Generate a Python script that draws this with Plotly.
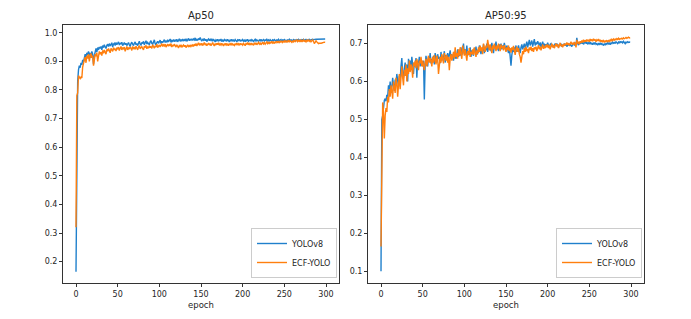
import plotly.graph_objects as go

epochs = list(range(300))

ap50_yolov8 = [
    0.165, 0.700, 0.830, 0.870, 0.885, 0.878, 0.895, 0.888, 0.905, 0.898,
    0.915, 0.925, 0.905, 0.930, 0.922, 0.935, 0.920, 0.930, 0.912, 0.935,
    0.925, 0.890, 0.920, 0.938, 0.945, 0.932, 0.948, 0.940, 0.950, 0.945,
    0.952, 0.940, 0.955, 0.948, 0.958, 0.950, 0.945, 0.956, 0.960, 0.952,
    0.962, 0.955, 0.958, 0.965, 0.950, 0.960, 0.963, 0.955, 0.966, 0.958,
    0.962, 0.968, 0.957, 0.964, 0.960, 0.967, 0.955, 0.962, 0.966, 0.958,
    0.963, 0.955, 0.960, 0.966, 0.958, 0.952, 0.962, 0.967, 0.960, 0.955,
    0.963, 0.968, 0.958, 0.962, 0.955, 0.965, 0.970, 0.960, 0.957, 0.966,
    0.962, 0.970, 0.958, 0.965, 0.972, 0.960, 0.966, 0.962, 0.958, 0.968,
    0.972, 0.963, 0.960, 0.968, 0.975, 0.962, 0.958, 0.966, 0.970, 0.963,
    0.968, 0.974, 0.962, 0.970, 0.965, 0.972, 0.976, 0.966, 0.971, 0.968,
    0.975, 0.968, 0.972, 0.978, 0.966, 0.973, 0.970, 0.976, 0.969, 0.974,
    0.971, 0.977, 0.968, 0.974, 0.979, 0.970, 0.975, 0.972, 0.978, 0.971,
    0.976, 0.973, 0.979, 0.970, 0.975, 0.980, 0.972, 0.977, 0.974, 0.979,
    0.973, 0.978, 0.975, 0.982, 0.972, 0.977, 0.974, 0.980, 0.975, 0.983,
    0.976, 0.971, 0.978, 0.974, 0.980, 0.972, 0.977, 0.969, 0.975, 0.978,
    0.972, 0.977, 0.973, 0.979, 0.970, 0.976, 0.974, 0.968, 0.975, 0.972,
    0.977, 0.970, 0.975, 0.973, 0.978, 0.969, 0.974, 0.971, 0.976, 0.972,
    0.975, 0.970, 0.977, 0.973, 0.968, 0.975, 0.972, 0.977, 0.970, 0.974,
    0.971, 0.976, 0.972, 0.968, 0.975, 0.973, 0.977, 0.970, 0.974, 0.972,
    0.976, 0.971, 0.974, 0.969, 0.975, 0.972, 0.977, 0.970, 0.973, 0.975,
    0.971, 0.976, 0.973, 0.968, 0.974, 0.977, 0.971, 0.975, 0.972, 0.970,
    0.975, 0.972, 0.977, 0.970, 0.974, 0.976, 0.971, 0.975, 0.973, 0.977,
    0.972, 0.975, 0.970, 0.976, 0.973, 0.971, 0.975, 0.972, 0.976, 0.974,
    0.971, 0.975, 0.973, 0.977, 0.972, 0.974, 0.976, 0.971, 0.975, 0.973,
    0.976, 0.972, 0.974, 0.970, 0.975, 0.973, 0.977, 0.972, 0.975, 0.974,
    0.971, 0.976, 0.973, 0.975, 0.972, 0.976, 0.974, 0.977, 0.973, 0.975,
    0.972, 0.976, 0.974, 0.977, 0.973, 0.975, 0.977, 0.974, 0.976, 0.975,
    0.977, 0.974, 0.976, 0.975, 0.977, 0.976, 0.977, 0.976, 0.977, 0.977,
    0.977, 0.977, 0.977, 0.978, 0.977, 0.978, 0.978, 0.978, 0.978, 0.978,
]

ap50_ecf = [
    0.320, 0.780, 0.790, 0.850, 0.845, 0.840, 0.845, 0.842, 0.880, 0.900,
    0.905, 0.915, 0.895, 0.920, 0.910, 0.925, 0.900, 0.918, 0.928, 0.912,
    0.920, 0.885, 0.910, 0.925, 0.918, 0.930, 0.900, 0.928, 0.935, 0.925,
    0.932, 0.920, 0.938, 0.928, 0.940, 0.932, 0.925, 0.942, 0.935, 0.945,
    0.938, 0.930, 0.945, 0.940, 0.935, 0.948, 0.940, 0.944, 0.936, 0.948,
    0.942, 0.950, 0.938, 0.946, 0.952, 0.940, 0.948, 0.944, 0.950, 0.935,
    0.945, 0.952, 0.940, 0.948, 0.943, 0.950, 0.946, 0.938, 0.952, 0.945,
    0.948, 0.942, 0.953, 0.946, 0.940, 0.950, 0.955, 0.944, 0.948, 0.952,
    0.945, 0.940, 0.953, 0.948, 0.956, 0.944, 0.950, 0.946, 0.955, 0.948,
    0.952, 0.945, 0.958, 0.950, 0.946, 0.955, 0.950, 0.960, 0.948, 0.953,
    0.957, 0.950, 0.955, 0.962, 0.952, 0.958, 0.954, 0.960, 0.950, 0.956,
    0.960, 0.953, 0.958, 0.955, 0.962, 0.950, 0.957, 0.953, 0.960, 0.955,
    0.950, 0.958, 0.953, 0.947, 0.955, 0.952, 0.958, 0.949, 0.954, 0.957,
    0.951, 0.956, 0.948, 0.954, 0.958, 0.950, 0.955, 0.952, 0.958, 0.953,
    0.957, 0.952, 0.960, 0.955, 0.962, 0.954, 0.958, 0.965, 0.956, 0.961,
    0.958, 0.963, 0.955, 0.960, 0.966, 0.957, 0.962, 0.955, 0.960, 0.964,
    0.957, 0.962, 0.955, 0.960, 0.966, 0.958, 0.954, 0.962, 0.957, 0.963,
    0.958, 0.965, 0.956, 0.961, 0.957, 0.963, 0.959, 0.954, 0.962, 0.958,
    0.963, 0.957, 0.960, 0.955, 0.962, 0.958, 0.964, 0.956, 0.961, 0.958,
    0.955, 0.962, 0.958, 0.964, 0.957, 0.961, 0.956, 0.963, 0.959, 0.961,
    0.957, 0.963, 0.958, 0.955, 0.962, 0.960, 0.966, 0.958, 0.962, 0.957,
    0.964, 0.959, 0.961, 0.956, 0.963, 0.960, 0.965, 0.958, 0.962, 0.966,
    0.960, 0.964, 0.958, 0.963, 0.967, 0.961, 0.965, 0.960, 0.964, 0.968,
    0.962, 0.966, 0.961, 0.968, 0.963, 0.970, 0.964, 0.967, 0.962, 0.969,
    0.965, 0.971, 0.966, 0.969, 0.964, 0.970, 0.967, 0.972, 0.966, 0.970,
    0.968, 0.973, 0.966, 0.971, 0.968, 0.974, 0.967, 0.972, 0.969, 0.966,
    0.971, 0.968, 0.974, 0.969, 0.972, 0.975, 0.969, 0.973, 0.970, 0.974,
    0.968, 0.973, 0.970, 0.975, 0.970, 0.972, 0.968, 0.974, 0.971, 0.976,
    0.970, 0.973, 0.968, 0.972, 0.975, 0.970, 0.962, 0.966, 0.972, 0.968,
    0.965, 0.962, 0.963, 0.962, 0.963, 0.964, 0.966, 0.965, 0.967, 0.966,
]

ap5095_yolov8 = [
    0.100, 0.500, 0.510, 0.540, 0.550, 0.555, 0.548, 0.565, 0.560, 0.590,
    0.575, 0.600, 0.570, 0.585, 0.610, 0.590, 0.575, 0.605, 0.595, 0.620,
    0.600, 0.585, 0.615, 0.605, 0.640, 0.662, 0.620, 0.610, 0.635, 0.650,
    0.625, 0.645, 0.600, 0.660, 0.640, 0.655, 0.630, 0.665, 0.645, 0.620,
    0.650, 0.640, 0.662, 0.610, 0.655, 0.648, 0.665, 0.640, 0.660, 0.650,
    0.640, 0.655, 0.553, 0.645, 0.668, 0.650, 0.640, 0.665, 0.655, 0.675,
    0.648, 0.660, 0.652, 0.668, 0.645, 0.675, 0.658, 0.650, 0.672, 0.660,
    0.665, 0.648, 0.678, 0.655, 0.668, 0.660, 0.680, 0.650, 0.670, 0.662,
    0.675, 0.658, 0.670, 0.682, 0.660, 0.672, 0.665, 0.655, 0.678, 0.668,
    0.660, 0.672, 0.685, 0.665, 0.675, 0.668, 0.690, 0.670, 0.680, 0.700,
    0.672, 0.685, 0.670, 0.695, 0.668, 0.680, 0.673, 0.690, 0.665, 0.682,
    0.675, 0.668, 0.688, 0.678, 0.692, 0.670, 0.684, 0.676, 0.695, 0.680,
    0.672, 0.688, 0.680, 0.698, 0.675, 0.690, 0.682, 0.700, 0.678, 0.692,
    0.685, 0.695, 0.680, 0.702, 0.688, 0.675, 0.695, 0.690, 0.705, 0.685,
    0.692, 0.680, 0.698, 0.688, 0.700, 0.685, 0.695, 0.690, 0.702, 0.688,
    0.680, 0.695, 0.685, 0.675, 0.690, 0.665, 0.642, 0.670, 0.685, 0.678,
    0.690, 0.682, 0.695, 0.678, 0.688, 0.695, 0.685, 0.675, 0.690, 0.698,
    0.685, 0.692, 0.700, 0.688, 0.695, 0.705, 0.690, 0.700, 0.710, 0.695,
    0.700, 0.708, 0.692, 0.700, 0.712, 0.695, 0.703, 0.698, 0.706, 0.700,
    0.695, 0.703, 0.690, 0.698, 0.705, 0.695, 0.700, 0.692, 0.698, 0.695,
    0.702, 0.695, 0.690, 0.698, 0.700, 0.693, 0.697, 0.690, 0.695, 0.700,
    0.694, 0.700, 0.696, 0.690, 0.698, 0.695, 0.700, 0.692, 0.697, 0.694,
    0.700, 0.695, 0.698, 0.692, 0.696, 0.700, 0.694, 0.698, 0.695, 0.692,
    0.698, 0.700, 0.695, 0.702, 0.697, 0.715, 0.700, 0.696, 0.703, 0.699,
    0.705, 0.700, 0.704, 0.698, 0.702, 0.706, 0.700, 0.704, 0.698, 0.702,
    0.700, 0.704, 0.698, 0.702, 0.697, 0.701, 0.699, 0.703, 0.698, 0.700,
    0.696, 0.700, 0.698, 0.702, 0.697, 0.700, 0.698, 0.695, 0.700, 0.697,
    0.700, 0.698, 0.703, 0.699, 0.701, 0.697, 0.702, 0.700, 0.704, 0.701,
    0.703, 0.700, 0.705, 0.702, 0.700, 0.704, 0.701, 0.706, 0.703, 0.705,
    0.702, 0.706, 0.703, 0.700, 0.704, 0.702, 0.705, 0.703, 0.704, 0.703,
]

ap5095_ecf = [
    0.165, 0.470, 0.545, 0.520, 0.450, 0.510, 0.530, 0.520, 0.560, 0.545,
    0.580, 0.560, 0.590, 0.575, 0.555, 0.600, 0.585, 0.570, 0.610, 0.595,
    0.560, 0.600, 0.620, 0.580, 0.605, 0.640, 0.610, 0.590, 0.630, 0.615,
    0.645, 0.600, 0.635, 0.620, 0.655, 0.625, 0.645, 0.635, 0.610, 0.650,
    0.640, 0.655, 0.635, 0.660, 0.645, 0.630, 0.655, 0.648, 0.665, 0.640,
    0.655, 0.645, 0.630, 0.650, 0.660, 0.640, 0.655, 0.668, 0.650, 0.662,
    0.655, 0.640, 0.665, 0.650, 0.670, 0.658, 0.645, 0.668, 0.660, 0.620,
    0.655, 0.665, 0.650, 0.672, 0.660, 0.648, 0.675, 0.662, 0.655, 0.670,
    0.650, 0.665, 0.630, 0.660, 0.672, 0.655, 0.668, 0.678, 0.660, 0.690,
    0.665, 0.675, 0.660, 0.685, 0.668, 0.690, 0.672, 0.660, 0.695, 0.675,
    0.668, 0.685, 0.672, 0.655, 0.680, 0.670, 0.688, 0.665, 0.678, 0.672,
    0.685, 0.670, 0.690, 0.675, 0.665, 0.682, 0.672, 0.690, 0.678, 0.695,
    0.680, 0.690, 0.672, 0.700, 0.685, 0.678, 0.695, 0.688, 0.710, 0.690,
    0.682, 0.698, 0.688, 0.675, 0.695, 0.685, 0.700, 0.690, 0.680, 0.695,
    0.685, 0.700, 0.690, 0.680, 0.698, 0.688, 0.694, 0.682, 0.696, 0.688,
    0.678, 0.690, 0.683, 0.695, 0.680, 0.688, 0.676, 0.690, 0.683, 0.694,
    0.680, 0.670, 0.685, 0.692, 0.678, 0.688, 0.672, 0.665, 0.650, 0.668,
    0.680, 0.672, 0.688, 0.678, 0.692, 0.680, 0.686, 0.675, 0.690, 0.683,
    0.692, 0.680, 0.688, 0.678, 0.690, 0.685, 0.692, 0.680, 0.688, 0.696,
    0.685, 0.692, 0.682, 0.690, 0.698, 0.686, 0.694, 0.688, 0.697, 0.690,
    0.698, 0.688, 0.695, 0.685, 0.692, 0.700, 0.690, 0.696, 0.688, 0.694,
    0.700, 0.692, 0.698, 0.688, 0.695, 0.702, 0.693, 0.697, 0.690, 0.699,
    0.694, 0.700, 0.696, 0.703, 0.697, 0.701, 0.695, 0.700, 0.705, 0.698,
    0.702, 0.697, 0.704, 0.700, 0.690, 0.710, 0.700, 0.705, 0.698, 0.706,
    0.702, 0.708, 0.703, 0.710, 0.704, 0.709, 0.705, 0.711, 0.706, 0.710,
    0.705, 0.712, 0.707, 0.711, 0.706, 0.713, 0.708, 0.711, 0.705, 0.710,
    0.707, 0.712, 0.706, 0.710, 0.704, 0.709, 0.705, 0.708, 0.703, 0.707,
    0.705, 0.709, 0.704, 0.708, 0.706, 0.710, 0.707, 0.711, 0.708, 0.712,
    0.709, 0.712, 0.710, 0.713, 0.711, 0.714, 0.711, 0.713, 0.712, 0.714,
    0.712, 0.715, 0.713, 0.714, 0.716, 0.714, 0.715, 0.717, 0.715, 0.716,
]

series_names = ["YOLOv8", "ECF-YOLO"]
panel_titles = ["Ap50", "AP50:95"]
x_ticks = [0, 50, 100, 150, 200, 250, 300]
left_y_ticks = [0.2, 0.3, 0.4, 0.5, 0.6, 0.7, 0.8, 0.9, 1.0]
right_y_ticks = [0.1, 0.2, 0.3, 0.4, 0.5, 0.6, 0.7]

BLUE = "#2080cc"
ORANGE = "#ff7f0e"
OFF = 8  # page body margin offset
W, H = 691 - OFF, 319 - OFF
FONT = "DejaVu Sans"
TXT = "#262626"


def px(x):
    return (x - OFF) / W


def py(y):
    return (H - (y - OFF)) / H


fig = go.Figure()
fig.add_trace(go.Scatter(x=epochs, y=ap50_yolov8, mode="lines", name=series_names[0],
                         line=dict(color=BLUE, width=1.4), xaxis="x", yaxis="y", legend="legend"))
fig.add_trace(go.Scatter(x=epochs, y=ap50_ecf, mode="lines", name=series_names[1],
                         line=dict(color=ORANGE, width=1.4), xaxis="x", yaxis="y", legend="legend"))
fig.add_trace(go.Scatter(x=epochs, y=ap5095_yolov8, mode="lines", name=series_names[0],
                         line=dict(color=BLUE, width=1.4), xaxis="x2", yaxis="y2", legend="legend2"))
fig.add_trace(go.Scatter(x=epochs, y=ap5095_ecf, mode="lines", name=series_names[1],
                         line=dict(color=ORANGE, width=1.4), xaxis="x2", yaxis="y2", legend="legend2"))

ax_common = dict(showgrid=False, zeroline=False, showline=True, mirror=True,
                 linecolor="#333333", linewidth=1, ticks="outside", ticklen=3,
                 tickwidth=1, tickcolor="#333333", automargin=False,
                 tickfont=dict(family=FONT, size=8, color=TXT))

ydom = [py(283), py(25)]
legend_common = dict(xanchor="right", yanchor="bottom",
                     bgcolor="rgba(255,255,255,0.8)", bordercolor="#cccccc", borderwidth=1,
                     font=dict(family=FONT, size=8, color=TXT),
                     tracegroupgap=0, itemwidth=30)

fig.update_layout(
    width=W, height=H,
    margin=dict(l=0, r=0, t=0, b=0),
    paper_bgcolor="white", plot_bgcolor="white",
    font=dict(family=FONT, size=8, color=TXT),
    showlegend=True,
    xaxis=dict(domain=[px(63), px(339)], range=[-15.6, 315.6], tickvals=x_ticks,
               title=dict(text="epoch", font=dict(family=FONT, size=8.5, color=TXT), standoff=4),
               **ax_common),
    yaxis=dict(domain=ydom, range=[0.1255, 1.027], tickvals=left_y_ticks,
               tickformat=".1f", anchor="x", **ax_common),
    xaxis2=dict(domain=[px(368), px(644)], range=[-15.6, 315.6], tickvals=x_ticks,
                anchor="y2",
                title=dict(text="epoch", font=dict(family=FONT, size=8.5, color=TXT), standoff=4),
                **ax_common),
    yaxis2=dict(domain=ydom, range=[0.069, 0.749], tickvals=right_y_ticks,
                tickformat=".1f", anchor="x2", **ax_common),
    legend=dict(x=px(337), y=py(278), **legend_common),
    legend2=dict(x=px(642), y=py(278), **legend_common),
    annotations=[
        dict(text=panel_titles[0], x=px((63 + 339) / 2), y=py(16), xref="paper", yref="paper",
             showarrow=False, xanchor="center", yanchor="middle",
             font=dict(family=FONT, size=10, color=TXT)),
        dict(text=panel_titles[1], x=px((368 + 644) / 2), y=py(16), xref="paper", yref="paper",
             showarrow=False, xanchor="center", yanchor="middle",
             font=dict(family=FONT, size=10, color=TXT)),
    ],
)

fig.write_html("out.html")
